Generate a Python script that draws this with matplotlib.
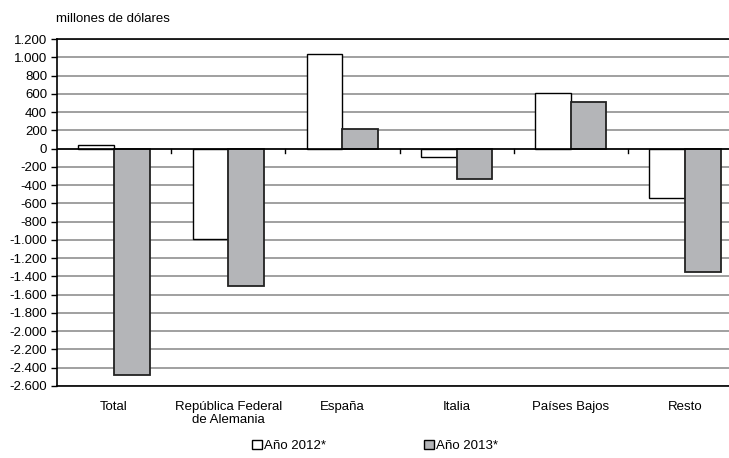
import numpy as np
import matplotlib.pyplot as plt
from matplotlib.ticker import FuncFormatter
from matplotlib.patches import Patch

plt.rcParams['font.family'] = ['Liberation Sans', 'DejaVu Sans']

categorias = ['Total', 'República Federal\nde Alemania', 'España', 'Italia', 'Países Bajos', 'Resto']
anio_2012 = [35, -990, 1040, -90, 610, -540]
anio_2013 = [-2480, -1510, 210, -330, 510, -1350]
series = ['Año 2012*', 'Año 2013*']

fig = plt.figure(figsize=(7.29, 4.58), dpi=100)
ax = fig.add_axes([57 / 729, 72 / 458, 685 / 729, 347 / 458])

x = np.arange(len(categorias))
w = 0.3125
ax.bar(x - w / 2, anio_2012, w, color='white', edgecolor='black', linewidth=1.0, zorder=3)
ax.bar(x + w / 2, anio_2013, w, color='#b4b5b8', edgecolor='#222222', linewidth=1.3, zorder=3)

ax.set_xlim(-0.5, len(categorias) - 0.5)
ax.set_ylim(-2600, 1200)
ax.set_yticks(np.arange(-2600, 1201, 200))
ax.yaxis.set_major_formatter(FuncFormatter(lambda v, p: f'{int(v):,}'.replace(',', '.')))
ax.grid(axis='y', color='#a0a0a0', linewidth=1.4, zorder=0)
ax.axhline(0, color='black', linewidth=1.2, zorder=4)
for b in x[:-1] + 0.5:
    ax.plot([b, b], [0, -45], color='black', linewidth=1.0, zorder=4)

ax.set_xticks(x)
ax.set_xticklabels(categorias, fontsize=9.5, linespacing=1.1)
ax.tick_params(axis='x', length=0, pad=11)
ax.tick_params(axis='y', labelsize=9.5, length=4, width=1, pad=3)

for s in ['left', 'top', 'bottom']:
    ax.spines[s].set_color('black')
    ax.spines[s].set_linewidth(1.2)
ax.spines['right'].set_visible(False)

fig.text(56 / 729, 1 - 19 / 458, 'millones de dólares', fontsize=9.5, va='center', ha='left')

handles = [Patch(facecolor='white', edgecolor='black', label=series[0]),
           Patch(facecolor='#b4b5b8', edgecolor='black', label=series[1])]
fig.legend(handles=handles, loc='center', bbox_to_anchor=(375 / 729, 1 - 446 / 458), ncol=2,
           frameon=False, fontsize=9.5, handlelength=0.75, handleheight=0.75,
           handletextpad=0.15, columnspacing=7.5)

fig.savefig('out.png', dpi=100)
